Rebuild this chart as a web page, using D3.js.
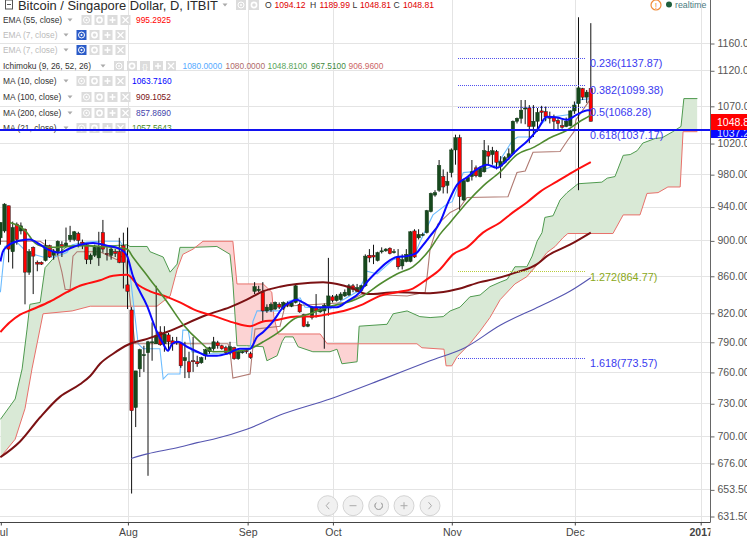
<!DOCTYPE html>
<html><head><meta charset="utf-8">
<script src="https://cdnjs.cloudflare.com/ajax/libs/d3/7.8.5/d3.min.js"></script>
<style>html,body{margin:0;padding:0;background:#fff;overflow:hidden}svg{display:block;font-family:"Liberation Sans",Arial,sans-serif}</style>
</head><body><div id="c"></div>
<script>
const opens=[903,911,941,887,919,911,913,864,892,875,875,877,894,883,887,895,893,901,901,908,898,895,878,883,880,909,885,883,887,887,894,850,823,726,763,776,779,789,788,800,788,797,791,790,788,771,770,771,770,769,776,780,783,789,786,784,779,784,773,779,781,778,843,844,842,822,823,824,829,825,830,827,831,829,818,806,815,826,821,822,827,837,833,834,838,839,849,843,844,849,883,883,877,887,888,891,886,881,871,876,876,911,903,906,909,934,954,960,977,966,982,1011,1027,948,971,977,988,977,983,1009,1005,1009,990,995,1001,1006,1049,1053,1066,1067,1042,1049,1063,1062,1055,1054,1050,1043,1042,1043,1063,1073,1094,1082,1094.12];
const highs=[921,944,941,922,921,921,914,890,893,877,876,901,895,890,900,899,915,917,911,910,901,897,885,895,910,924,892,893,890,903,909,915,826,761,783,786,791,810,849,806,806,799,795,795,789,790,780,795,776,775,783,785,795,791,787,786,790,785,781,781,783,780,853,849,853,829,831,832,831,832,832,832,850,831,819,811,827,840,826,830,880,839,840,842,845,851,851,851,850,884,890,895,887,892,891,892,890,890,884,890,911,913,913,909,936,957,960,998,986,983,1013,1031,1031,973,977,998,991,990,1024,1017,1015,1011,1003,1003,1013,1050,1054,1078,1078,1071,1071,1067,1070,1069,1062,1058,1054,1051,1054,1064,1076,1199,1095,1092,1189.99];
const lows=[895,909,875,868,895,907,829,861,840,865,872,876,880,878,883,881,892,898,899,892,890,873,873,881,871,886,877,878,881,874,846,824,650,708,755,760,665,771,788,786,780,781,781,787,764,754,754,760,765,768,772,778,781,783,782,777,777,772,772,778,778,773,840,842,811,820,821,823,824,823,826,826,830,820,805,805,813,815,820,783,817,831,832,833,837,838,842,842,843,848,875,873,876,885,887,884,885,867,867,875,875,880,901,905,908,933,952,958,956,956,976,992,936,947,970,972,976,976,982,992,992,986,975,993,998,1005,1046,1046,1045,1020,1028,1035,1049,1049,1046,1037,1037,1039,1041,1042,1059,960,1078,1074,1048.81];
const closes=[921,943,890,915,901,917,864,887,882,873,873,894,881,887,899,893,897,906,910,900,895,878,883,892,892,890,884,890,885,875,875,843,723,761,782,777,790,790,796,787,798,790,788,789,766,774,760,770,768,774,782,784,790,786,783,779,785,773,780,780,780,774,848,845,822,826,829,831,826,831,828,831,849,821,806,808,826,822,824,828,838,833,838,840,842,849,845,847,849,882,880,881,886,888,890,885,887,870,878,884,910,881,907,907,935,956,957,991,964,971,1011,1027,952,972,976,983,978,988,1010,1003,1010,995,996,1001,1006,1049,1053,1064,1067,1042,1049,1061,1061,1055,1053,1049,1046,1041,1049,1063,1071,1095,1082,1089,1048.81];

const ma10Bars=[0,.6,1.6,4.8,7.2,9.7,11.4,14.5,17,19.4,22.6,26,29.2,30.9,32.3,35.8,38.2,39.7,40.9,41.9,43.3,45.5,48,50.4,52.8,55.3,58.4,60.9,62.6,64.1,66.5,69,70.6,72.3,73.8,76.2,78.7,82.1,84.5,87.7,89.4,91.9,94.3,96.7,99.2,101.6,102.3,104.8,107.2,109.2,111.4,113.8,116.2,118.7,121.1,123.6,126,128.4,130.9,133.3,135.8,138.2,140.6,143.3,144];
const ma10Values=[876,887,893,900,901,895,890,886,891,895,897,894,890,882,860,827,800,788,781,788,790,785,780,776,776,778,783,783,795,800,811,826,831,834,831,826,826,826,832,842,853,865,875,881,882,886,890,905,921,945,967,976,986,992,988,998,1011,1022,1037,1055,1054,1051,1058,1064,1063.72];
const ma21Bars=[2.3,4.8,6.5,8,10.4,13.8,16.2,20.1,24.3,30.9,32.3,36.5,40.6,44.5,48.7,51.9,58.4,60.9,64.1,68.2,71.4,75.5,79.7,84.5,88.4,92.6,96.7,100.6,104.8,107.2,109.7,113.8,117.7,121.9,126,129.9,134.1,138.2,141.4,143.6,144];
const ma21Values=[921,916,909,899,893,892,893,894,893,890,881,856,832,808,790,780,781,783,790,801,813,819,826,831,838,851,862,870,890,907,921,945,965,983,1005,1014,1027,1037,1049,1056,1057.56];
const ema55Bars=[0,2.3,4.8,8,12.1,16.2,19.4,24.3,27.5,30.9,33.3,36.5,40.6,43.8,48,51.9,56.7,60.9,64.1,66.5,72.3,75.5,80.4,84.5,88.4,92.6,96.7,100.6,104,107.2,110.4,113.8,117.7,121.9,125,128.4,131.6,135.8,139.7,144];
const ema55Values=[800,810,818,824,832,842,849,855,860,861,851,843,837,831,822,817,810,806,811,812,816,816,819,823,829,838,842,846,856,867,884,892,909,921,933,945,958,971,983,995.29];
const ma100Bars=[0,4.8,9.7,14.5,19.4,21.9,24.3,27.5,31.1,35.8,40.6,50.4,56,60.1,64.1,68.2,72.3,78.7,82.1,86,89.4,96.7,104.8,112.1,117,120.1,126,130.9,133.3,138.9,144];
const ma100Values=[681,695,717,736,748,756,768,778,787,793,800,818,826,834,843,848,851,853,851,846,840,842,841,846,853,856,864,873,882,895,909.1];
const ma200Bars=[31.9,35.8,43.8,48,51.9,60.1,68.2,80.4,93.3,104.8,113.3,121.9,131.6,138.9,144];
const ma200Values=[680,684,690,694,697,706,719,734,753,771,784,807,827,843,857.87];
const tenkanBars=[0,1.1,4,5.3,6.5,10.4,13.3,16.2,17.5,21.1,24.3,29.2,31.1,33.6,34.8,38.9,39.7,40.9,43.8,44.5,45.8,46.7,49.9,54.8,60.1,60.9,61.6,62.6,68.2,69.4,70.1,73.1,74.3,80.4,83.6,87.2,88.4,89.4,91.9,95.8,101.1,102.3,105.5,108.9,110.2,112.9,117,121.1,125,126.2,129.7,130.6,133.5,138.9,140.9,144];
const tenkanValues=[842,893,898,892,886,881,881,886,895,898,899,899,882,788,783,783,753,758,758,802,802,780,778,778,780,783,811,822,822,827,832,836,826,824,834,843,853,865,862,878,884,898,930,943,946,982,984,992,1024,1028,1028,1037,1054,1058,1078,1080];
const kijunBars=[0,9.7,13.8,15,15.8,17,17.7,18.7,24.3,28.4,30.4,32.8,55.5,56,56.7,60.9,61.4,62.1,68.2,69.4,84.5,88.2,99.2,103.6,104,104.8,106.7,109.7,112.1,113.8,123.8,126,128,129.9,136.5,138.4,139.9,140.4,144];
const kijunValues=[899,899,886,864,845,845,882,887,887,878,884,788,788,781,754,758,778,803,806,827,831,840,838,842,856,890,919,933,939,951,952,982,984,1008,1009,1024,1035,1051,1080];
const spanABars=[0,3.6,5.3,6.5,7.2,9.7,10.9,13.8,16.2,20.1,24.3,30.9,31.6,35.8,36.5,39.7,41.4,43.1,43.8,47,52.8,56,56.7,57.7,60.1,64.1,65,67.5,68.7,69.4,71.4,72.6,76.2,80.4,82.1,83.3,87,87.5,94.3,95.8,99.2,102.3,104.8,108,109.7,112.1,114.5,117,119.4,121.9,123.6,125.5,128.4,129.7,130.9,132.1,132.8,134.8,136.5,138.2,140.9,146.7,148,149.9,151.9,153.6,155.3,156.7,159.7,161.4,164,166,166.7,170];
const spanAValues=[715,734,763,803,829,831,869,884,893,895,893,895,893,893,887,881,864,873,892,892,893,884,853,786,786,785,771,776,790,795,795,785,780,780,782.5,768,770,806,808,819,822,816,815,816,822,826,837,839,848,853,856,870,870,882,899,909,927,929,948,957,968,970,975,977,1004,1005,1010,1020,1026,1027,1035,1042,1080,1080];
const spanBBars=[0,3.6,6,7.7,10.4,17.5,21.9,38.2,41.4,43.1,44.5,47,49.4,56.7,57.7,64.1,66.2,66.7,67.7,78,79.7,101.6,102.8,108.2,108.7,110.1,111.4,114.5,117,119.4,121.9,125.5,128.4,131.6,133.3,135.3,137.2,138.4,149.4,151.9,156,157.7,160.4,162.8,165.8,166.5,170];
const spanBValues=[681,697,725,763,819,822,827,827,838,867,884,890,899,899,851,851,842,816,798,798,788,788,784,782.5,766,766,775,788,801,815,834,851,859,876,886,893,903,908,908,930,930,956,957,964,964,1035,1035];

const priceTicks=[1160,1120,1070,1020,980,940,900,860,820,790,760,730,700,676,653.5,631.5];
const monthBars=[0.1,31.1,60.3,81.1,110.1,140.1,170.8];
const monthLabels=["Jul","Aug","Sep","Oct","Nov","Dec","2017"];
const hLineValue=1037.2;
const lastPrice=1048.81;
const fibRatios=["0.236","0.382","0.5","0.618","1.272","1.618"];
const fibPrices=[1137.87,1099.38,1068.28,1037.17,864.77,773.57];
const legendNames=["EMA (55, close)","EMA (7, close)","EMA (7, close)","Ichimoku (9, 26, 52, 26)","MA (10, close)","MA (100, close)","MA (200, close)","MA (21, close)"];
const legendValues=[["995.2925"],[],[],["1080.0000","1080.0000","1048.8100","967.5100","906.9600"],["1063.7160"],["909.1052"],["857.8690"],["1057.5643"]];
const legendColors=[["#ff0000"],[],[],["#55aaff","#b06a6a","#5aa55a","#3f8a3f","#c66"],["#0000ff"],["#7b1113"],["#4444aa"],["#4a8a2a"]];

const W=747,H=538,axX=710.5,axY=522.5;
const svg=d3.select("#c").append("svg").attr("width",W).attr("height",H);
const x=d3.scaleLinear().domain([0,170]).range([0.4,697.4]);
const y=d3.scaleLog().domain([1160,631.5]).range([43,516]);
const defs=svg.append("defs");
defs.append("clipPath").attr("id","plot").append("rect").attr("x",0).attr("y",0).attr("width",axX).attr("height",axY);
const pts=(b,v)=>b.map((d,i)=>[x(d),y(v[i])]);
const line=d3.line();
const smooth=d3.line().curve(d3.curveMonotoneX);
const A=pts(spanABars,spanAValues),B=pts(spanBBars,spanBValues);
const xMin=x(0),xMax=x(170);
const toTop=p=>line([[xMin,-10],...p,[xMax,-10]])+"Z";
const toBot=p=>line([[xMin,axY+10],...p,[xMax,axY+10]])+"Z";
defs.append("clipPath").attr("id","aboveB").append("path").attr("d",toTop(B));
defs.append("clipPath").attr("id","belowB").append("path").attr("d",toBot(B));

// grid
const grid=svg.append("g").attr("stroke","#e4e4e4").attr("stroke-width",1).attr("shape-rendering","crispEdges");
priceTicks.forEach(p=>grid.append("line").attr("x1",0).attr("x2",axX).attr("y1",Math.round(y(p))+.5).attr("y2",Math.round(y(p))+.5));
monthBars.slice(1).forEach(m=>grid.append("line").attr("x1",Math.round(x(m))+.5).attr("x2",Math.round(x(m))+.5).attr("y1",0).attr("y2",axY));

const plot=svg.append("g").attr("clip-path","url(#plot)");
// cloud
plot.append("g").attr("clip-path","url(#aboveB)").append("path").attr("d",toBot(A)).attr("fill","#d9e9d6");
plot.append("g").attr("clip-path","url(#belowB)").append("path").attr("d",toTop(A)).attr("fill","#fcd3d3");
plot.append("path").attr("d",line(A)).attr("fill","none").attr("stroke","#4f9a4f").attr("stroke-width",1);
plot.append("path").attr("d",line(B)).attr("fill","none").attr("stroke","#e8706a").attr("stroke-width",1);
// thin ichimoku
plot.append("path").attr("d",line(pts(tenkanBars,tenkanValues))).attr("fill","none").attr("stroke","#6cbcff").attr("stroke-width",1.1);
plot.append("path").attr("d",line(pts(kijunBars,kijunValues))).attr("fill","none").attr("stroke","#b07a72").attr("stroke-width",1.1);
// candles
const bars=d3.range(opens.length);
const cg=plot.append("g");
cg.selectAll("line").data(bars).join("line")
 .attr("x1",i=>x(i)).attr("x2",i=>x(i)).attr("y1",i=>y(highs[i])).attr("y2",i=>y(lows[i]))
 .attr("stroke","#111").attr("stroke-width",1);
cg.selectAll("rect").data(bars).join("rect")
 .attr("x",i=>x(i)-1.7).attr("width",3.4)
 .attr("y",i=>y(Math.max(opens[i],closes[i])))
 .attr("height",i=>Math.max(1,Math.abs(y(opens[i])-y(closes[i]))))
 .attr("fill",i=>closes[i]>=opens[i]?"#17491d":"#ff0000")
 .attr("stroke",i=>closes[i]>=opens[i]?"#123a17":"#222").attr("stroke-width",.5);
// moving averages
plot.append("path").attr("d",smooth(pts(ma200Bars,ma200Values))).attr("fill","none").attr("stroke","#5555b0").attr("stroke-width",1.1);
plot.append("path").attr("d",smooth(pts(ma100Bars,ma100Values))).attr("fill","none").attr("stroke","#7b1113").attr("stroke-width",2);
plot.append("path").attr("d",smooth(pts(ema55Bars,ema55Values))).attr("fill","none").attr("stroke","#ff1010").attr("stroke-width",2);
plot.append("path").attr("d",smooth(pts(ma21Bars,ma21Values))).attr("fill","none").attr("stroke","#4f8a2f").attr("stroke-width",1.6);
plot.append("path").attr("d",smooth(pts(ma10Bars,ma10Values))).attr("fill","none").attr("stroke","#0a0aff").attr("stroke-width",2);

// fib levels
const fibColor=i=>i===4?"#8aa820":"#3a3af0";
fibPrices.forEach((p,i)=>{
 if(i!==3) plot.append("line").attr("x1",x(111.7)).attr("x2",x(142.8)).attr("y1",Math.round(y(p))+.5).attr("y2",Math.round(y(p))+.5)
   .attr("stroke",i===4?"#b8cc3a":"#5050ee").attr("stroke-width",1).attr("stroke-dasharray","1 1").attr("shape-rendering","crispEdges");
 svg.append("text").attr("x",590).attr("y",y(p)+9.3).attr("font-size",10.8)
   .attr("fill",fibColor(i)).text(fibRatios[i]+"("+fibPrices[i].toFixed(2)+")");
});
// horizontal line
plot.append("line").attr("x1",0).attr("x2",axX).attr("y1",y(hLineValue)).attr("y2",y(hLineValue)).attr("stroke","#1212f0").attr("stroke-width",2);
svg.append("line").attr("x1",axX).attr("x2",W).attr("y1",y(hLineValue)).attr("y2",y(hLineValue)).attr("stroke","#1212f0").attr("stroke-width",2);

// axes
const yAxis=d3.axisRight(y).tickValues(priceTicks).tickFormat(d3.format(".2f")).tickSize(4).tickPadding(3);
const yg=svg.append("g").attr("transform",`translate(${axX},0)`).call(yAxis);
yg.select(".domain").attr("d",`M0,0V${axY}`).attr("stroke","#666");
yg.selectAll(".tick line").attr("stroke","#666").attr("y1",.5).attr("y2",.5);
yg.selectAll("text").attr("font-size",10.5).attr("fill","#555").attr("font-family","Liberation Sans");
defs.append("clipPath").attr("id","xclip").append("rect").attr("x",-5).attr("y",-2).attr("width",axX+5).attr("height",22);
const xAxis=d3.axisBottom(x).tickValues(monthBars).tickFormat((d,i)=>monthLabels[i]).tickSize(3).tickPadding(3);
const xg=svg.append("g").attr("transform",`translate(0,${axY})`).attr("clip-path","url(#xclip)").call(xAxis);
xg.select(".domain").attr("d",`M0,0H${axX}`).attr("stroke","#444");
xg.selectAll(".tick line").attr("stroke","#444");
xg.selectAll("text").attr("font-size",10.5).attr("fill","#444").attr("font-family","Liberation Sans")
  .attr("font-weight",(d,i)=>i===6?"bold":"normal");

// price tags
const tagTop=114, tagMid=Math.round(y(hLineValue));
svg.append("rect").attr("x",axX+.5).attr("y",tagMid).attr("width",40).attr("height",8).attr("fill","#0a0aff");
defs.append("clipPath").attr("id","bt").append("rect").attr("x",axX).attr("y",tagMid).attr("width",40).attr("height",8);
svg.append("text").attr("x",717).attr("y",tagMid+7).attr("font-size",10.5).attr("fill","#dfe4ff").attr("clip-path","url(#bt)").text(hLineValue.toFixed(2));
svg.append("rect").attr("x",axX+.5).attr("y",tagTop).attr("width",40).attr("height",tagMid-tagTop).attr("fill","#ff0000");
svg.append("text").attr("x",717).attr("y",tagTop+12).attr("font-size",10.5).attr("fill","#fff").text(lastPrice.toFixed(2));

// header
const hdr=svg.append("g");
hdr.append("rect").attr("x",5.5).attr("y",0).attr("width",7).attr("height",9).attr("fill","#fff").attr("stroke","#555");
hdr.append("line").attr("x1",7).attr("x2",11).attr("y1",4.5).attr("y2",4.5).attr("stroke","#555");
hdr.append("text").attr("x",18).attr("y",10).attr("font-size",12.9).attr("fill","#2a2a2a").text("Bitcoin / Singapore Dollar, D, ITBIT");
const ohlcLabels=["O","H","L","C"],ohlc=[opens[144],highs[144],lows[144],closes[144]],ohlcX=[265,310,352.5,393.5];
ohlc.forEach((v,i)=>{
 hdr.append("text").attr("x",ohlcX[i]).attr("y",8).attr("font-size",8.6).attr("fill","#333").text(ohlcLabels[i]);
 hdr.append("text").attr("x",ohlcX[i]+(i===2?7.5:9.5)).attr("y",8).attr("font-size",8.6).attr("fill","#e00000").text(v.toFixed(2));
});
function caret(g,cx,cy){g.append("path").attr("d",`M${cx-2.5},${cy-1.5}h5l-2.5,3z`).attr("fill","#aaa");}
function icon(g,ix,iy,kind,active){
 g.append("rect").attr("x",ix).attr("y",iy).attr("width",10).attr("height",10).attr("fill",active?"#2a5bc8":"#dcdcdc");
 const cx=ix+5,cy=iy+5,s="#fff";
 if(kind==="eye"){g.append("circle").attr("cx",cx).attr("cy",cy).attr("r",3).attr("fill","none").attr("stroke",s).attr("stroke-width",1);g.append("circle").attr("cx",cx).attr("cy",cy).attr("r",1).attr("fill",s);}
 if(kind==="gear"){g.append("circle").attr("cx",cx).attr("cy",cy).attr("r",2.6).attr("fill","none").attr("stroke",s).attr("stroke-width",1.6);}
 if(kind==="brace"){g.append("text").attr("x",cx).attr("y",cy+3).attr("text-anchor","middle").attr("font-size",8).attr("fill",s).text("{}");}
 if(kind==="plus"){g.append("path").attr("d",`M${cx-3},${cy}h6M${cx},${cy-3}v6`).attr("stroke",s).attr("stroke-width",1.4);}
 if(kind==="x"){g.append("path").attr("d",`M${cx-3},${cy-3}l6,6M${cx+3},${cy-3}l-6,6`).attr("stroke",s).attr("stroke-width",1.2);}
}
caret(hdr,225,5);
icon(hdr,236,0,"eye");icon(hdr,249,0,"gear");
// legend rows
const rowY=[20,35,50,66,81,97,113,128];
const rowCaret=[70,66,66,103,66,70,70,66];
const rowIcon=[81.5,76.5,76.5,114,76.5,81.5,81.5,76.5];
const rowVal=[[136],[],[],[182.5,225.5,267.5,311,348.5],[132],[136],[136],[132]];
const lg=svg.append("g");
legendNames.forEach((n,i)=>{
 const ry=rowY[i],g=lg.append("g"),off=i===1||i===2;
 g.append("text").attr("x",3).attr("y",ry+3).attr("font-size",8.4).attr("fill",off?"#bbb":"#333").text(n);
 caret(g,rowCaret[i],ry);
 const kinds=i===3?["eye","gear","brace","plus","x"]:["eye","gear","plus","x"];
 kinds.forEach((k,j)=>icon(g,rowIcon[i]+j*13,ry-5,k,off&&j===0));
 legendValues[i].forEach((v,j)=>g.append("text").attr("x",rowVal[i][j]).attr("y",ry+3).attr("font-size",8.4).attr("fill",legendColors[i][j]).text(v));
});
// keep horizontal line above MA 21 legend row
svg.append("line").attr("x1",0).attr("x2",175).attr("y1",y(hLineValue)).attr("y2",y(hLineValue)).attr("stroke","#1212f0").attr("stroke-width",2);

// realtime
const rt=svg.append("g");
rt.append("circle").attr("cx",656).attr("cy",5).attr("r",5).attr("fill","#fff").attr("stroke","#f08c3a").attr("stroke-width",1.2);
rt.append("text").attr("x",656).attr("y",8.5).attr("text-anchor","middle").attr("font-size",9).attr("fill","#f08c3a").text("!");
rt.append("circle").attr("cx",669).attr("cy",4.5).attr("r",3).attr("fill","#1e5f3c");
rt.append("text").attr("x",675).attr("y",7.5).attr("font-size",8.8).attr("fill","#4a7a80").text("realtime");

// navigation buttons
const navX=[327.7,353,378.7,404,430],navY=505.7;
const nav=svg.append("g");
navX.forEach(cx=>nav.append("circle").attr("cx",cx).attr("cy",navY).attr("r",10).attr("fill","#f1f1f1").attr("stroke","#d4d4d4"));
nav.append("path").attr("d",`M${navX[0]+1.5},${navY-3.5}l-3,3.5l3,3.5`).attr("fill","none").attr("stroke","#aaa");
nav.append("path").attr("d",`M${navX[1]-3.5},${navY}h7`).attr("stroke","#aaa");
nav.append("path").attr("d",d3.arc()({innerRadius:3.8,outerRadius:3.8,startAngle:0.7,endAngle:5.6})).attr("transform",`translate(${navX[2]},${navY})`).attr("fill","none").attr("stroke","#aaa");
nav.append("path").attr("d",`M${navX[3]-3.5},${navY}h7M${navX[3]},${navY-3.5}v7`).attr("stroke","#aaa");
nav.append("path").attr("d",`M${navX[4]-1.5},${navY-3.5}l3,3.5l-3,3.5`).attr("fill","none").attr("stroke","#aaa");
</script>
</body></html>
